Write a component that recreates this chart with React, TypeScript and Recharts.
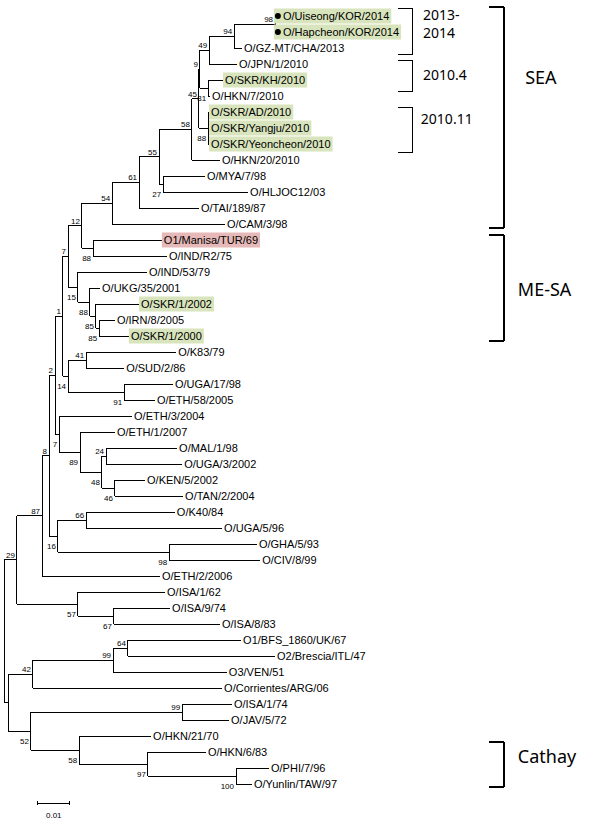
import React from "react";
import { ScatterChart, Scatter, XAxis, YAxis, ReferenceLine } from "recharts";

// leaves, top to bottom
const leafNames = [
  "O/Uiseong/KOR/2014", "O/Hapcheon/KOR/2014", "O/GZ-MT/CHA/2013", "O/JPN/1/2010",
  "O/SKR/KH/2010", "O/HKN/7/2010", "O/SKR/AD/2010", "O/SKR/Yangju/2010",
  "O/SKR/Yeoncheon/2010", "O/HKN/20/2010", "O/MYA/7/98", "O/HLJOC12/03",
  "O/TAI/189/87", "O/CAM/3/98", "O1/Manisa/TUR/69", "O/IND/R2/75",
  "O/IND/53/79", "O/UKG/35/2001", "O/SKR/1/2002", "O/IRN/8/2005",
  "O/SKR/1/2000", "O/K83/79", "O/SUD/2/86", "O/UGA/17/98",
  "O/ETH/58/2005", "O/ETH/3/2004", "O/ETH/1/2007", "O/MAL/1/98",
  "O/UGA/3/2002", "O/KEN/5/2002", "O/TAN/2/2004", "O/K40/84",
  "O/UGA/5/96", "O/GHA/5/93", "O/CIV/8/99", "O/ETH/2/2006",
  "O/ISA/1/62", "O/ISA/9/74", "O/ISA/8/83", "O1/BFS_1860/UK/67",
  "O2/Brescia/ITL/47", "O3/VEN/51", "O/Corrientes/ARG/06", "O/ISA/1/74",
  "O/JAV/5/72", "O/HKN/21/70", "O/HKN/6/83", "O/PHI/7/96",
  "O/Yunlin/TAW/97",
];

// distance from root (substitutions/site)
const leafDepth = [
  0.0864, 0.0864, 0.0751, 0.0735, 0.0691, 0.065, 0.0647, 0.0647,
  0.0647, 0.0681, 0.0634, 0.077, 0.0615, 0.0697, 0.0498, 0.0514,
  0.0451, 0.0303, 0.0426, 0.035, 0.0394, 0.0543, 0.0379, 0.0533,
  0.0476, 0.0404, 0.035, 0.0546, 0.0562, 0.0445, 0.0565, 0.0539,
  0.0688, 0.0798, 0.0808, 0.0492, 0.0508, 0.0524, 0.0681, 0.0748,
  0.0855, 0.0703, 0.0688, 0.0719, 0.071, 0.0464, 0.0637, 0.0836,
  0.0782,
];

const greenLeaves = [0, 1, 4, 6, 7, 8, 18, 20];
const pinkLeaves = [14];
const dotLeaves = [0, 1];

type TreeNode = { id: string; kids: (number | string)[]; depth: number; boot?: number; below?: boolean };

const nodes: TreeNode[] = [
  { id: "root", kids: ["n29", "nA"], depth: 0 },
  { id: "n29", kids: ["n87", "n57"], depth: 0.0041, boot: 29 },
  { id: "n87", kids: ["n8", 35], depth: 0.012, boot: 87 },
  { id: "n8", kids: ["n2", "n16"], depth: 0.0142, boot: 8 },
  { id: "n2", kids: ["n1", "n7b"], depth: 0.0161, boot: 2 },
  { id: "n1", kids: ["n7", "n14"], depth: 0.0186, boot: 1 },
  { id: "n7", kids: ["n12", "n15"], depth: 0.0202, boot: 7 },
  { id: "n12", kids: ["n54", "n88a"], depth: 0.0246, boot: 12 },
  { id: "n54", kids: ["n61", 13], depth: 0.0341, boot: 54 },
  { id: "n61", kids: ["n55", 12], depth: 0.0426, boot: 61 },
  { id: "n55", kids: ["n58", "n27"], depth: 0.0489, boot: 55 },
  { id: "n58", kids: ["n45", 9], depth: 0.0593, boot: 58 },
  { id: "n45", kids: ["n9", "n88b"], depth: 0.0615, boot: 45 },
  { id: "n9", kids: ["n49", "n81"], depth: 0.0618, boot: 9 },
  { id: "n49", kids: ["n94", 3], depth: 0.0647, boot: 49 },
  { id: "n94", kids: ["n98", 2], depth: 0.0726, boot: 94 },
  { id: "n98", kids: [0, 1], depth: 0.0855, boot: 98 },
  { id: "n81", kids: [4, 5], depth: 0.0644, boot: 81, below: true },
  { id: "n88b", kids: [6, 7, 8], depth: 0.0644, boot: 88, below: true },
  { id: "n27", kids: [10, 11], depth: 0.0502, boot: 27, below: true },
  { id: "n88a", kids: [14, 15], depth: 0.0281, boot: 88, below: true },
  { id: "n15", kids: [16, "n88c"], depth: 0.0233, boot: 15, below: true },
  { id: "n88c", kids: [17, "n85a"], depth: 0.0271, boot: 88, below: true },
  { id: "n85a", kids: [18, "n85b"], depth: 0.029, boot: 85, below: true },
  { id: "n85b", kids: [19, 20], depth: 0.03, boot: 85, below: true },
  { id: "n14", kids: ["n41", "n91"], depth: 0.0202, boot: 14, below: true },
  { id: "n41", kids: [21, 22], depth: 0.0259, boot: 41 },
  { id: "n91", kids: [23, 24], depth: 0.0379, boot: 91, below: true },
  { id: "n7b", kids: [25, "n89"], depth: 0.0174, boot: 7, below: true },
  { id: "n89", kids: [26, "n48"], depth: 0.024, boot: 89, below: true },
  { id: "n48", kids: ["n24", "n46"], depth: 0.0309, boot: 48, below: true },
  { id: "n24", kids: [27, 28], depth: 0.0322, boot: 24 },
  { id: "n46", kids: [29, 30], depth: 0.035, boot: 46, below: true },
  { id: "n16", kids: ["n66", "n98b"], depth: 0.017, boot: 16, below: true },
  { id: "n66", kids: [31, 32], depth: 0.0259, boot: 66 },
  { id: "n98b", kids: [33, 34], depth: 0.0521, boot: 98, below: true },
  { id: "n57", kids: [36, "n67"], depth: 0.0233, boot: 57, below: true },
  { id: "n67", kids: [37, 38], depth: 0.0347, boot: 67, below: true },
  { id: "nA", kids: ["n42", "n52"], depth: 0.0013 },
  { id: "n42", kids: ["n99a", 42], depth: 0.0091, boot: 42 },
  { id: "n99a", kids: ["n64", 41], depth: 0.0344, boot: 99 },
  { id: "n64", kids: [39, 40], depth: 0.0391, boot: 64 },
  { id: "n52", kids: ["n99b", "n58b"], depth: 0.0085, boot: 52, below: true },
  { id: "n99b", kids: [43, 44], depth: 0.0562, boot: 99 },
  { id: "n58b", kids: [45, "n97"], depth: 0.0237, boot: 58, below: true },
  { id: "n97", kids: [46, "n100"], depth: 0.0454, boot: 97, below: true },
  { id: "n100", kids: [47, 48], depth: 0.0732, boot: 100, below: true },
];

// clade brackets on the right (y in leaf rows)
const bracketNames = ["2013-\n2014", "2010.4", "2010.11", "SEA", "ME-SA", "Cathay"];
const bracketTop = [-0.5, 2.81, 5.69, -0.56, 13.69, 45.38];
const bracketBottom = [2.38, 4.69, 8.5, 13.25, 20.31, 48.19];
const bracketLeft = [0.1243, 0.1243, 0.1243, 0.153, 0.153, 0.153];
const bracketRight = [0.129, 0.129, 0.129, 0.1577, 0.1577, 0.1577];
const bracketTextX = [0.1322, 0.1322, 0.1315, 0.1644, 0.1621, 0.1621];
const bracketTextY = [-0.06, 3.69, 6.44, 3.875, 17.1, 46.3];

const scaleBar = [0.0107, 0.0207];
const scaleRow = 49.19;
const scaleText = "0.01";

const LEAF_FONT = "'Liberation Sans', Arial, sans-serif";
const NOTE_FONT = "'Noto Sans', 'Liberation Sans', sans-serif";

let ctx: CanvasRenderingContext2D | null = null;
function textWidth(s: string) {
  if (!ctx) ctx = document.createElement("canvas").getContext("2d");
  if (!ctx) return s.length * 6;
  ctx.font = `11px ${LEAF_FONT}`;
  return ctx.measureText(s).width;
}

const byId: Record<string, TreeNode> = {};
nodes.forEach((n) => (byId[n.id] = n));

function rowOf(k: number | string): number {
  if (typeof k === "number") return k;
  const kids = byId[k].kids;
  return (rowOf(kids[0]) + rowOf(kids[kids.length - 1])) / 2;
}
function depthOf(k: number | string) {
  return typeof k === "number" ? leafDepth[k] : byId[k].depth;
}

const segments: { x1: number; y1: number; x2: number; y2: number }[] = [];
nodes.forEach((n) => {
  const first = rowOf(n.kids[0]);
  const last = rowOf(n.kids[n.kids.length - 1]);
  segments.push({ x1: n.depth, y1: first, x2: n.depth, y2: last });
  n.kids.forEach((k) => {
    const r = rowOf(k);
    segments.push({ x1: n.depth, y1: r, x2: depthOf(k), y2: r });
  });
});

const leafPoints = leafNames.map((name, i) => ({
  x: leafDepth[i],
  y: i,
  name,
  dot: dotLeaves.includes(i),
  fill: greenLeaves.includes(i) ? "#d8e4bc" : pinkLeaves.includes(i) ? "#e6b9b8" : null,
}));

const bootPoints = nodes
  .filter((n) => n.boot !== undefined)
  .map((n) => ({ x: n.depth, y: rowOf(n.id), boot: n.boot, below: !!n.below }));

const notePoints = bracketNames.map((name, i) => ({
  x: bracketTextX[i],
  y: bracketTextY[i],
  name,
  big: i >= 3,
}));

const LeafMark = (props: any) => {
  const { cx, cy, payload } = props;
  const tx = cx + (payload.dot ? 5 : 2);
  const w = textWidth(payload.name);
  const rx = cx - (payload.dot ? 4 : 0);
  return (
    <g>
      {payload.fill && (
        <rect x={rx} y={cy - 7.5} width={tx + w + 2 - rx} height={15} fill={payload.fill} />
      )}
      {payload.dot && <circle cx={cx} cy={cy} r={3} fill="#000" />}
      <text x={tx} y={cy + 4} fontSize={11} fontFamily={LEAF_FONT} fill="#000">
        {payload.name}
      </text>
    </g>
  );
};

const BootMark = (props: any) => {
  const { cx, cy, payload } = props;
  return (
    <text
      x={cx - 2}
      y={payload.below ? cy + 13 : cy - 2}
      textAnchor="end"
      fontSize={8}
      fontFamily={LEAF_FONT}
      fill="#000"
    >
      {payload.boot}
    </text>
  );
};

const NoteMark = (props: any) => {
  const { cx, cy, payload } = props;
  const lines = String(payload.name).split("\n");
  const size = payload.big ? 18 : 14;
  return (
    <text x={cx} y={cy + size * 0.36} fontSize={size} fontFamily={NOTE_FONT} fill="#000">
      {lines.map((l, i) => (
        <tspan key={i} x={cx} dy={i === 0 ? 0 : 18}>
          {l}
        </tspan>
      ))}
    </text>
  );
};

const ScaleMark = (props: any) => {
  const { cx, cy } = props;
  return (
    <text x={cx} y={cy + 15} textAnchor="middle" fontSize={8} fontFamily={LEAF_FONT} fill="#000">
      {scaleText}
    </text>
  );
};

export default function App() {
  return (
    <div style={{ position: "absolute", left: 0, top: 0, background: "#fff" }}>
      <ScatterChart width={590} height={825} margin={{ top: 0, right: 0, bottom: 0, left: 0 }}>
        <XAxis type="number" dataKey="x" hide domain={[-0.001262, 0.184858]} allowDataOverflow />
        <YAxis type="number" dataKey="y" hide reversed domain={[-1, 50.5625]} allowDataOverflow />
        {segments.map((s, i) => (
          <ReferenceLine
            key={`b-${i}`}
            segment={[{ x: s.x1, y: s.y1 }, { x: s.x2, y: s.y2 }]}
            stroke="#000"
            strokeWidth={1}
            shapeRendering="crispEdges"
            ifOverflow="visible"
          />
        ))}
        {bracketNames.map((_, i) => {
          const sw = i >= 3 ? 2 : 1;
          return (
            <React.Fragment key={`br-${i}`}>
              <ReferenceLine
                segment={[{ x: bracketLeft[i], y: bracketTop[i] }, { x: bracketRight[i], y: bracketTop[i] }]}
                stroke="#000" strokeWidth={sw} shapeRendering="crispEdges" ifOverflow="visible"
              />
              <ReferenceLine
                segment={[{ x: bracketRight[i], y: bracketTop[i] }, { x: bracketRight[i], y: bracketBottom[i] }]}
                stroke="#000" strokeWidth={sw} shapeRendering="crispEdges" ifOverflow="visible"
              />
              <ReferenceLine
                segment={[{ x: bracketLeft[i], y: bracketBottom[i] }, { x: bracketRight[i], y: bracketBottom[i] }]}
                stroke="#000" strokeWidth={sw} shapeRendering="crispEdges" ifOverflow="visible"
              />
            </React.Fragment>
          );
        })}
        <ReferenceLine
          segment={[{ x: scaleBar[0], y: scaleRow }, { x: scaleBar[1], y: scaleRow }]}
          stroke="#000" strokeWidth={1} shapeRendering="crispEdges" ifOverflow="visible"
        />
        {scaleBar.map((x, i) => (
          <ReferenceLine
            key={`t-${i}`}
            segment={[{ x, y: scaleRow - 0.15 }, { x, y: scaleRow + 0.15 }]}
            stroke="#000" strokeWidth={1} shapeRendering="crispEdges" ifOverflow="visible"
          />
        ))}
        <Scatter data={leafPoints} shape={LeafMark} isAnimationActive={false} />
        <Scatter data={bootPoints} shape={BootMark} isAnimationActive={false} />
        <Scatter data={notePoints} shape={NoteMark} isAnimationActive={false} />
        <Scatter
          data={[{ x: (scaleBar[0] + scaleBar[1]) / 2, y: scaleRow }]}
          shape={ScaleMark}
          isAnimationActive={false}
        />
      </ScatterChart>
    </div>
  );
}
